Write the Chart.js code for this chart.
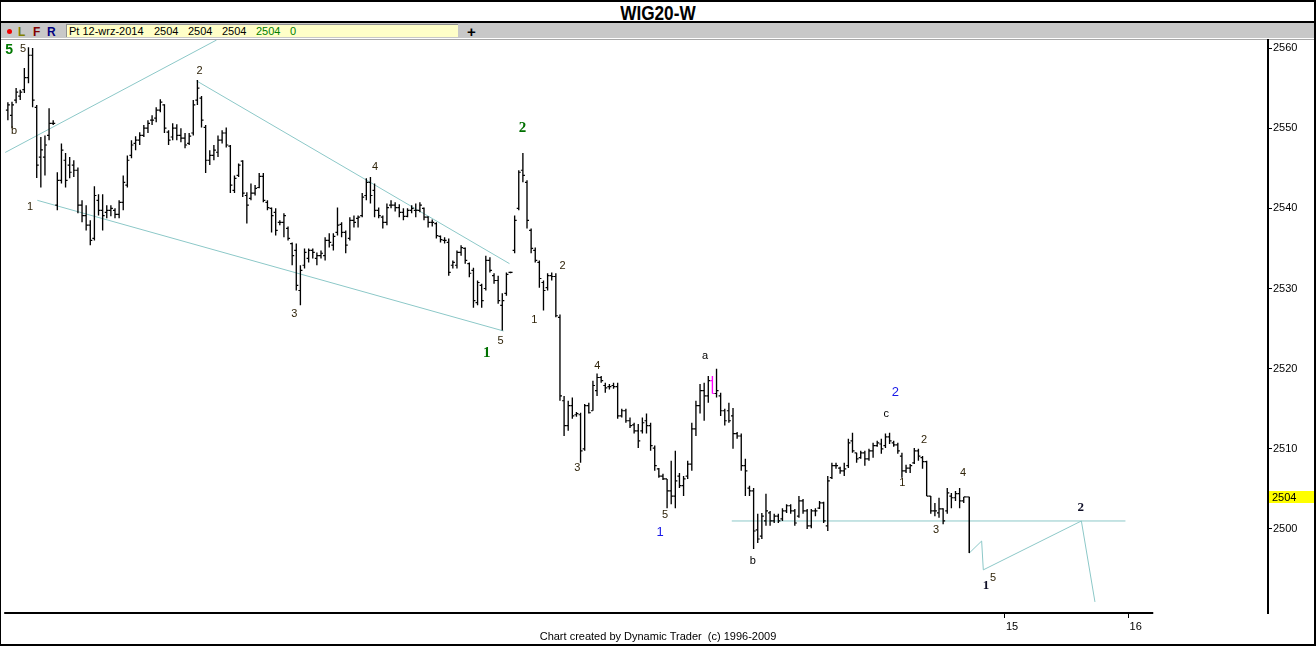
<!DOCTYPE html>
<html><head><meta charset="utf-8">
<script src="https://cdn.jsdelivr.net/npm/chart.js@4.4.1/dist/chart.umd.min.js"></script>
<style>
html,body{margin:0;padding:0;background:#fff;}
#wrap{position:relative;width:1316px;height:646px;overflow:hidden;background:#fff;}
#frame{position:absolute;left:0;top:0;width:1316px;height:646px;box-sizing:border-box;border:2px solid #000;border-left-width:1px;pointer-events:none;z-index:5}
canvas#c{position:absolute;left:0;top:0;z-index:2}
.t{position:absolute;white-space:pre;font-family:"Liberation Sans",Arial,sans-serif;line-height:1;}
#title{position:absolute;left:0;width:1316px;top:3px;text-align:center;}
#title span{display:inline-block;transform:scaleX(0.86);font-weight:bold;font-size:20px;line-height:1;font-family:"Liberation Sans",Arial,sans-serif;}
</style></head><body>
<div id="wrap">
  <div id="title"><span>WIG20-W</span></div>
  <div style="position:absolute;left:0;top:21px;width:1316px;height:2px;background:#000"></div>
  <div style="position:absolute;left:0;top:23px;width:1316px;height:15px;background:#c8c8c8"></div>
  <div style="position:absolute;left:0;top:38px;width:1316px;height:1px;background:#fff"></div>
  <div style="position:absolute;left:0;top:39px;width:1316px;height:1px;background:#a8a8a8"></div>
  <div style="position:absolute;left:7px;top:29px;width:5px;height:5px;border-radius:50%;background:#f00000"></div>
  <div class="t" style="left:18px;top:26px;font-size:12px;font-weight:bold;color:#808000">L</div>
  <div class="t" style="left:33px;top:26px;font-size:12px;font-weight:bold;color:#800000">F</div>
  <div class="t" style="left:47px;top:26px;font-size:12px;font-weight:bold;color:#000080">R</div>
  <div style="position:absolute;left:66px;top:24px;width:392px;height:13px;background:#ffffc8;border-left:1px solid #909090;border-top:1px solid #909090;box-sizing:border-box"></div>
  <div class="t" style="left:69px;top:26px;font-size:11px;color:#000">Pt 12-wrz-2014</div>
  <div class="t" style="left:154px;top:26px;font-size:11px;color:#000">2504</div>
  <div class="t" style="left:188px;top:26px;font-size:11px;color:#000">2504</div>
  <div class="t" style="left:222px;top:26px;font-size:11px;color:#000">2504</div>
  <div class="t" style="left:256px;top:26px;font-size:11px;color:#008000">2504</div>
  <div class="t" style="left:290px;top:26px;font-size:11px;color:#008000">0</div>
  <div class="t" style="left:467px;top:24px;font-size:15px;font-weight:bold;color:#000">+</div>
  <canvas id="c" width="1316" height="646"></canvas>
  <div class="t" style="left:0;width:1316px;top:631px;text-align:center;font-size:11px;color:#000;z-index:3">Chart created by Dynamic Trader  (c) 1996-2009</div>
  <div id="frame"></div>
</div>
<script>
// ---- data ----
const firstBarMinute = 416;   // minutes after midnight of first bar
const barMinutes = 2;
const opens = [2552.25,2551.6,2553.5,2554.0,2554.8,2556.3,2559.1,2552.6,2546.4,2546.4,2549.1,2550.6,2540.4,2543.5,2546.0,2545.4,2545.4,2544.75,2540.4,2539.1,2537.9,2536.25,2541.0,2539.75,2539.5,2539.75,2539.75,2539.25,2540.75,2542.9,2546.6,2548.1,2548.5,2549.1,2550.0,2551.0,2551.25,2552.25,2552.9,2549.5,2548.9,2550.0,2549.1,2548.75,2548.1,2549.4,2553.5,2553.75,2550.1,2546.0,2546.6,2547.0,2548.5,2549.4,2547.75,2542.25,2544.1,2545.9,2541.6,2541.25,2541.9,2542.6,2544.0,2540.75,2540.0,2539.5,2538.25,2538.25,2537.5,2535.6,2534.75,2529.75,2532.9,2533.75,2534.75,2533.75,2534.1,2534.1,2536.0,2535.4,2537.0,2538.0,2537.0,2536.25,2538.5,2538.75,2539.1,2541.6,2543.25,2542.25,2539.75,2538.9,2538.25,2540.4,2540.4,2540.1,2539.5,2539.0,2539.75,2539.75,2539.75,2540.0,2538.9,2538.25,2538.1,2536.5,2536.0,2535.75,2532.9,2532.9,2534.5,2535.0,2533.1,2532.25,2528.25,2530.4,2530.0,2533.5,2531.6,2531.0,2527.9,2529.4,2532.0,2534.75,2540.0,2544.75,2543.25,2537.25,2534.75,2533.25,2530.75,2530.1,2531.6,2531.5,2526.4,2516.0,2512.9,2515.4,2514.25,2514.25,2510.0,2515.4,2514.75,2517.25,2518.9,2517.9,2517.75,2517.9,2517.75,2514.1,2514.75,2513.5,2513.0,2512.25,2512.25,2513.5,2512.9,2510.1,2507.5,2506.6,2506.25,2504.75,2504.1,2506.6,2505.4,2506.6,2508.1,2512.5,2515.4,2517.25,2516.6,2518.5,2516.9,2516.6,2514.75,2514.75,2514.1,2511.9,2511.6,2507.9,2505.1,2504.75,2499.9,2499.1,2501.0,2502.0,2501.0,2501.6,2501.25,2502.25,2502.9,2502.25,2501.6,2503.5,2502.25,2500.4,2502.25,2502.6,2503.25,2500.4,2506.4,2507.9,2507.6,2507.25,2507.9,2511.0,2509.5,2508.9,2509.5,2508.75,2509.75,2510.4,2510.6,2510.4,2511.5,2510.75,2510.5,2509.1,2507.25,2507.6,2508.25,2509.75,2508.9,2508.4,2504.1,2502.25,2502.0,2502.5,2502.25,2504.1,2503.9,2504.4,2503.5];
const highs = [2553.25,2553.3,2555.0,2554.8,2557.5,2560.1,2560.0,2552.9,2548.9,2549.1,2552.5,2551.0,2544.5,2548.1,2546.9,2546.4,2546.0,2545.1,2541.0,2540.4,2538.5,2542.75,2541.75,2541.75,2540.4,2540.4,2540.0,2541.0,2544.1,2546.6,2548.5,2549.0,2549.5,2550.4,2551.0,2551.6,2552.6,2553.6,2553.0,2549.75,2550.6,2550.5,2550.0,2549.4,2549.4,2553.5,2556.0,2554.0,2550.4,2547.25,2547.9,2549.1,2549.75,2550.1,2547.9,2544.1,2545.6,2546.0,2542.0,2543.1,2542.9,2544.4,2544.4,2541.0,2540.1,2540.0,2538.5,2539.4,2537.75,2535.75,2535.6,2532.9,2535.0,2535.0,2535.0,2534.5,2534.75,2536.4,2536.9,2536.9,2540.1,2538.25,2537.25,2538.9,2539.1,2539.1,2541.9,2543.75,2543.9,2543.1,2540.1,2539.1,2540.6,2541.0,2540.75,2540.5,2540.0,2540.0,2540.4,2540.6,2540.75,2540.1,2539.0,2538.6,2538.25,2536.6,2536.4,2536.25,2533.5,2534.75,2535.4,2535.1,2533.25,2532.6,2531.0,2530.6,2534.1,2533.9,2531.9,2531.6,2529.4,2532.0,2532.1,2539.1,2544.75,2546.9,2543.5,2537.5,2535.1,2533.5,2531.0,2531.9,2532.0,2531.9,2526.75,2516.6,2516.0,2516.4,2514.6,2514.5,2515.6,2515.75,2518.5,2519.4,2519.1,2518.25,2518.1,2518.25,2518.25,2515.0,2515.0,2513.9,2513.25,2513.1,2513.9,2514.4,2513.25,2510.4,2507.6,2506.9,2506.25,2508.5,2509.75,2507.0,2506.6,2508.5,2513.25,2516.0,2518.1,2518.25,2519.1,2519.1,2520.0,2517.0,2515.0,2515.75,2515.1,2512.1,2511.9,2508.75,2505.4,2505.1,2501.9,2502.0,2504.4,2502.25,2501.9,2501.9,2502.6,2503.1,2503.1,2502.5,2504.1,2503.75,2502.5,2502.5,2502.6,2503.5,2503.4,2506.6,2508.25,2508.25,2507.75,2508.25,2511.25,2512.0,2509.5,2509.75,2509.75,2510.0,2510.75,2511.0,2511.25,2511.9,2512.0,2511.0,2510.75,2509.5,2508.0,2508.1,2510.1,2510.0,2509.1,2508.5,2504.1,2503.25,2503.9,2502.6,2505.1,2504.5,2504.75,2505.1,2504.0];
const lows = [2551.0,2550.0,2553.1,2553.5,2554.4,2555.6,2552.6,2543.8,2542.6,2544.1,2548.5,2550.4,2539.75,2543.1,2542.6,2543.75,2543.9,2539.4,2538.25,2537.25,2535.4,2536.0,2539.1,2537.25,2538.75,2539.0,2538.75,2538.75,2539.75,2542.6,2546.25,2547.25,2547.9,2548.9,2549.4,2550.4,2550.75,2552.0,2549.4,2547.9,2548.5,2548.5,2548.25,2547.5,2547.9,2549.1,2552.9,2550.1,2544.4,2545.4,2546.0,2546.4,2548.1,2547.6,2541.9,2541.9,2543.9,2541.4,2538.1,2541.0,2541.6,2542.5,2540.75,2539.75,2537.0,2536.6,2537.9,2536.4,2536.0,2532.9,2529.75,2527.9,2532.5,2533.25,2533.75,2532.9,2533.75,2533.5,2535.1,2534.75,2536.6,2536.4,2534.4,2536.0,2537.6,2537.6,2538.9,2541.0,2540.6,2538.9,2538.75,2537.5,2537.9,2540.0,2539.6,2538.9,2538.5,2538.9,2539.4,2538.9,2539.5,2538.5,2537.6,2537.75,2536.25,2535.75,2535.6,2531.6,2532.5,2532.5,2534.1,2533.1,2531.4,2527.6,2527.9,2527.6,2529.75,2532.0,2530.6,2528.1,2524.75,2529.1,2531.9,2534.4,2539.75,2543.25,2537.5,2534.4,2533.25,2530.1,2527.25,2529.75,2531.0,2526.4,2516.0,2511.6,2512.25,2513.75,2514.0,2508.25,2509.75,2514.4,2514.75,2516.6,2518.25,2517.0,2517.4,2517.5,2513.75,2513.9,2513.25,2512.6,2511.9,2510.1,2511.9,2511.9,2509.75,2507.25,2506.4,2506.1,2502.6,2503.1,2502.6,2505.1,2504.1,2506.25,2507.25,2511.6,2514.4,2513.5,2515.75,2516.9,2516.4,2514.1,2512.9,2513.25,2510.0,2511.25,2507.25,2504.1,2504.1,2497.5,2498.25,2498.75,2500.4,2500.4,2500.75,2500.75,2501.0,2502.0,2501.9,2500.4,2501.4,2501.9,2500.0,2500.1,2501.6,2502.5,2500.75,2499.75,2506.25,2507.5,2506.9,2506.6,2507.6,2509.5,2508.25,2508.75,2507.9,2508.5,2508.9,2510.25,2509.4,2510.1,2510.6,2510.25,2509.4,2506.4,2507.0,2507.0,2508.1,2508.5,2507.5,2504.1,2501.9,2501.6,2501.4,2500.6,2501.9,2502.6,2503.5,2502.6,2503.25];
const closes = [2552.9,2552.9,2554.5,2554.5,2556.3,2559.1,2553.5,2545.4,2547.3,2547.9,2550.6,2550.6,2543.5,2547.25,2543.5,2544.5,2544.75,2540.4,2539.1,2537.9,2536.0,2541.6,2539.75,2539.1,2539.75,2540.0,2539.25,2540.75,2543.25,2546.0,2547.9,2548.5,2549.1,2550.0,2550.6,2551.0,2552.25,2553.25,2550.0,2548.5,2550.0,2549.1,2548.75,2547.9,2549.0,2552.9,2555.0,2551.0,2546.0,2546.6,2547.25,2548.5,2549.4,2547.9,2542.9,2543.75,2545.4,2541.9,2540.4,2541.9,2542.5,2544.0,2541.0,2540.1,2539.1,2537.25,2538.25,2539.1,2536.25,2534.1,2530.4,2532.25,2534.5,2534.75,2534.5,2534.1,2534.4,2536.0,2535.75,2536.5,2537.9,2537.0,2535.4,2538.5,2538.25,2538.9,2541.4,2543.25,2541.6,2539.75,2539.1,2538.25,2540.1,2540.4,2540.1,2539.5,2539.0,2539.75,2540.0,2539.75,2540.4,2538.9,2538.25,2538.25,2536.6,2536.1,2536.0,2532.0,2533.25,2534.5,2535.1,2533.5,2531.9,2528.5,2530.75,2528.5,2533.5,2532.25,2531.0,2528.5,2528.5,2531.75,2532.0,2538.5,2544.5,2544.1,2538.5,2535.0,2533.5,2531.25,2529.75,2531.6,2531.5,2526.6,2516.6,2512.9,2515.4,2514.1,2514.4,2509.75,2515.4,2514.5,2517.9,2518.9,2518.5,2517.6,2517.75,2517.75,2514.1,2514.75,2513.5,2512.9,2512.25,2511.0,2513.25,2512.9,2510.4,2507.9,2506.6,2506.25,2504.75,2504.1,2506.0,2505.4,2506.25,2508.1,2512.5,2515.4,2517.25,2516.6,2518.5,2516.9,2517.25,2514.75,2513.5,2513.5,2511.9,2511.6,2507.9,2507.25,2504.75,2499.75,2498.75,2501.6,2502.25,2501.0,2501.6,2501.0,2502.25,2502.9,2502.25,2500.75,2503.5,2502.25,2500.4,2502.25,2502.25,2503.25,2501.0,2506.0,2507.9,2507.9,2507.25,2507.5,2510.75,2509.75,2508.75,2509.5,2508.75,2509.75,2510.4,2510.75,2510.0,2511.5,2511.0,2510.5,2509.75,2507.25,2507.6,2507.9,2509.75,2509.1,2508.4,2504.1,2502.25,2502.25,2502.5,2501.0,2504.5,2503.9,2504.4,2503.5,2504.0];
const highlightBar = 171;          // magenta bar
const lastPrice = 2504;
const yTicks = [2500, 2510, 2520, 2530, 2540, 2550, 2560];
const hourTicks = [900, 960];       // minutes
const hourLabels = ['15', '16'];
const axisEndMinute = 972;

// drawn lines (time in minutes, price)
const fanUpperLeft = [[414.2, 2546.9], [517.3, 2561.0]];
const channelUpper = [[507.6, 2555.9], [659.5, 2533.1]];
const channelLower = [[430.3, 2541.0], [656.6, 2524.7]];
const supportLine  = [[767.4, 2501.0], [958.5, 2501.0]];
const projection   = [[882.7, 2497.0], [888.7, 2498.5], [889.5, 2494.9], [937.1, 2501.0], [943.7, 2490.9]];
const lastDrop     = [[880.9, 2504.0], [882.7, 2504.0], [882.7, 2497.0]];

// wave labels
const waveTimes  = [416.6,423.4,419.0,426.8,509.0,594.2,555.0,655.2,648.4,665.8,671.6,685.2,702.1,692.4,735.0,732.6,754.4,777.6,846.8,842.4,850.2,860.8,866.6,879.7,894.2,890.8,936.8];
const wavePrices = [2559.75,2559.9,2549.6,2540.2,2557.1,2545.2,2526.8,2523.45,2521.95,2550.0,2526.1,2532.8,2520.3,2507.6,2501.75,2499.6,2521.6,2496.0,2517.0,2514.3,2505.7,2511.1,2499.9,2507.0,2493.9,2492.9,2502.7];
const waveTexts  = ['5','5','b','1','2','4','3','5','1','2','1','2','4','3','5','1','a','b','2','c','1','2','3','4','5','1','2'];
const waveKinds  = ['green','minor','minor','minor','minor','minor','minor','minor','greenSerif','greenSerif','minor','minor','minor','minor','minor','blue','letter','letter','blue','letter','minor','minor','minor','minor','minor','bold','bold'];

// ---- styles ----
const labelStyles = {
  green:      {font: 'bold 14px "Liberation Sans", sans-serif', color: '#007800'},
  greenSerif: {font: 'bold 15px "Liberation Serif", serif', color: '#007000'},
  minor:      {font: '11px "Liberation Sans", sans-serif', color: '#30240a'},
  letter:     {font: '11px "Liberation Sans", sans-serif', color: '#000'},
  blue:       {font: '13px "Liberation Sans", sans-serif', color: '#1818e8'},
  bold:       {font: 'bold 13px "Liberation Serif", serif', color: '#101028'}
};
const trendColor = '#8cc8c8';

const times = opens.map((_, i) => firstBarMinute + i * barMinutes);
const barColor = i => (i === highlightBar ? '#ff00ff' : '#000');
const toXY = arr => arr.map(p => ({x: p[0], y: p[1]}));
const lineDs = (pts, color) => ({type: 'line', data: toXY(pts), borderColor: color, borderWidth: 1,
  pointRadius: 0, fill: false, tension: 0, order: 10});

const extras = {
  id: 'extras',
  afterDraw(chart) {
    const {ctx, chartArea, scales: {x, y}} = chart;
    ctx.save();
    // bottom axis line
    ctx.strokeStyle = '#000'; ctx.lineWidth = 2;
    ctx.beginPath();
    ctx.moveTo(chartArea.left - 1, chartArea.bottom);
    ctx.lineTo(x.getPixelForValue(axisEndMinute), chartArea.bottom);
    ctx.stroke();
    // wave labels
    ctx.textAlign = 'center'; ctx.textBaseline = 'middle';
    waveTexts.forEach((txt, i) => {
      const st = labelStyles[waveKinds[i]];
      ctx.font = st.font; ctx.fillStyle = st.color;
      ctx.fillText(txt, x.getPixelForValue(waveTimes[i]), y.getPixelForValue(wavePrices[i]));
    });
    // last price box
    const py = y.getPixelForValue(lastPrice);
    ctx.fillStyle = '#ffff00';
    ctx.fillRect(chartArea.right + 1, Math.round(py) - 6, 46, 12);
    ctx.fillStyle = '#000'; ctx.textAlign = 'left';
    ctx.font = '11px "Liberation Sans", sans-serif';
    ctx.fillText(String(lastPrice), chartArea.right + 4, Math.round(py) + 0.5);
    ctx.restore();
  }
};

new Chart(document.getElementById('c'), {
  type: 'bar',
  data: {
    datasets: [
      {type: 'bar', data: times.map((t, i) => ({x: t, y: [lows[i], highs[i]]})),
       backgroundColor: ctx => barColor(ctx.dataIndex), borderWidth: 0, barThickness: 1.35, inflateAmount: 0, order: 1},
      {type: 'line', showLine: false, data: times.map((t, i) => ({x: t - 0.5, y: opens[i]})),
       pointStyle: 'line', pointRadius: 1, pointBorderWidth: 1.2, pointBorderColor: ctx => barColor(ctx.dataIndex), order: 2},
      {type: 'line', showLine: false, data: times.map((t, i) => ({x: t + 0.5, y: closes[i]})),
       pointStyle: 'line', pointRadius: 1, pointBorderWidth: 1.2, pointBorderColor: ctx => barColor(ctx.dataIndex), order: 2},
      lineDs(fanUpperLeft, trendColor),
      lineDs(channelUpper, trendColor),
      lineDs(channelLower, trendColor),
      lineDs(supportLine, trendColor),
      lineDs(projection, trendColor),
      Object.assign(lineDs(lastDrop, '#000'), {order: 0})
    ]
  },
  options: {
    responsive: false, animation: false, events: [],
    layout: {padding: {left: 1, right: 2, top: 40, bottom: 5}},
    plugins: {legend: {display: false}, tooltip: {enabled: false}},
    scales: {
      x: {type: 'linear', min: 414.7, max: 1027.7, offset: false,
        afterBuildTicks: s => { s.ticks = hourTicks.map(v => ({value: v})); },
        afterFit: s => { s.height = 28; },
        ticks: {callback: v => hourLabels[hourTicks.indexOf(v)], autoSkip: false, maxRotation: 0,
          align: 'start', labelOffset: 1, padding: 2, color: '#000',
          font: {family: 'Liberation Sans', size: 11}},
        grid: {drawOnChartArea: false, drawTicks: true, tickLength: 5, color: '#000', offset: false},
        border: {display: false}
      },
      y: {position: 'right', min: 2489.52, max: 2561.0,
        afterBuildTicks: s => { s.ticks = yTicks.map(v => ({value: v})); },
        afterFit: s => { s.width = 46; },
        ticks: {padding: 1, color: '#000', callback: v => String(v),
          font: {family: 'Liberation Sans', size: 11}},
        grid: {drawOnChartArea: false, tickLength: 4, color: '#000'},
        border: {display: true, color: '#000', width: 2}
      }
    }
  },
  plugins: [extras]
});
</script>
</body></html>
